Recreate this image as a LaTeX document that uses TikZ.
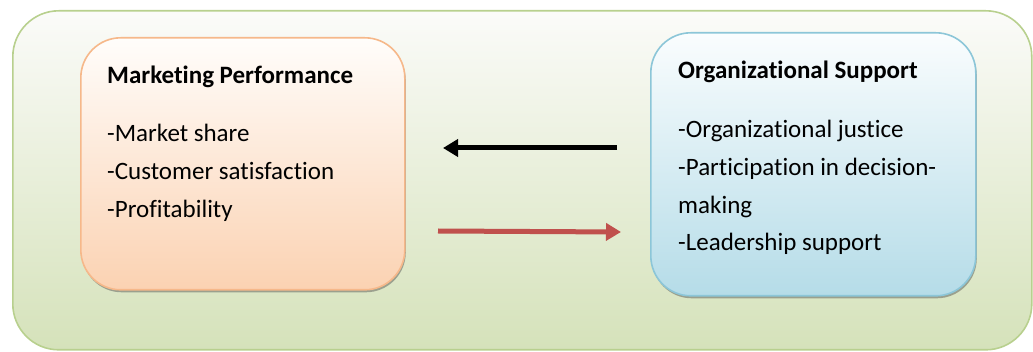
\documentclass[tikz,border=0pt]{standalone}
\usepackage{fontspec}
\setmainfont{Carlito}[Ligatures={NoCommon}]
\usetikzlibrary{arrows.meta,shadows}
\definecolor{outerline}{HTML}{B8D08E}
\definecolor{outertop}{HTML}{FBFBF9}
\definecolor{outerbot}{HTML}{D5E2BA}
\definecolor{orline}{HTML}{F6B88A}
\definecolor{ortop}{HTML}{FFFDFB}
\definecolor{orbot}{HTML}{FBD2B2}
\definecolor{blline}{HTML}{8CC6D8}
\definecolor{bltop}{HTML}{FAFDFE}
\definecolor{blbot}{HTML}{B5DCE8}
\definecolor{redarrow}{HTML}{C0504D}
\tikzset{
  outerbox/.style={draw=outerline, line width=1.6pt, rounded corners=46pt,
    top color=outertop, bottom color=outerbot, anchor=north west, inner sep=0pt},
  orbox/.style={draw=orline, line width=1.6pt, rounded corners=40pt,
    top color=ortop, bottom color=orbot, anchor=north west, inner sep=0pt,
    drop shadow={shadow xshift=1pt, shadow yshift=-2.5pt, opacity=0.45, fill=black!70}},
  blbox/.style={draw=blline, line width=1.6pt, rounded corners=40pt,
    top color=bltop, bottom color=blbot, anchor=north west, inner sep=0pt,
    drop shadow={shadow xshift=1pt, shadow yshift=-2.5pt, opacity=0.45, fill=black!70}},
  titletext/.style={anchor=base west, inner sep=0pt, font=\fontsize{25}{30}\selectfont\bfseries},
  bodytext/.style={anchor=base west, inner sep=0pt, font=\fontsize{25}{30}\selectfont},
  arrowline/.style={line width=5pt, -{Triangle[length=15pt,width=17pt]}}
}
\begin{document}
\begin{tikzpicture}[x=1pt,y=-1pt]
\useasboundingbox (0,0) rectangle (1033,352);
\node[outerbox, minimum width=1019pt, minimum height=339pt] (outer) at (12,10) {};
\node[orbox, minimum width=324pt, minimum height=252pt] (left) at (80,37) {};
\node[blbox, minimum width=325pt, minimum height=263pt] (right) at (650,32) {};
\node[titletext] (lt) at (107,84) {Marketing Performance};
\node[bodytext] (lb1) at (107,142) {-Market share};
\node[bodytext] (lb2) at (107,180) {-Customer satisfaction};
\node[bodytext] (lb3) at (107,218) {-Profitability};
\node[titletext] (rt) at (678,79) {Organizational Support};
\node[bodytext] (rb1) at (678,138) {-Organizational justice};
\node[bodytext] (rb2) at (678,176) {-Participation in decision-};
\node[bodytext] (rb3) at (678,214) {making};
\node[bodytext] (rb4) at (678,251) {-Leadership support};
\coordinate (a1s) at (617,148);
\coordinate (a1e) at (443,148);
\coordinate (a2s) at (438,231);
\coordinate (a2e) at (621,232);
\draw[arrowline, black] (a1s) -- (a1e);
\draw[arrowline, redarrow] (a2s) -- (a2e);
\end{tikzpicture}
\end{document}
